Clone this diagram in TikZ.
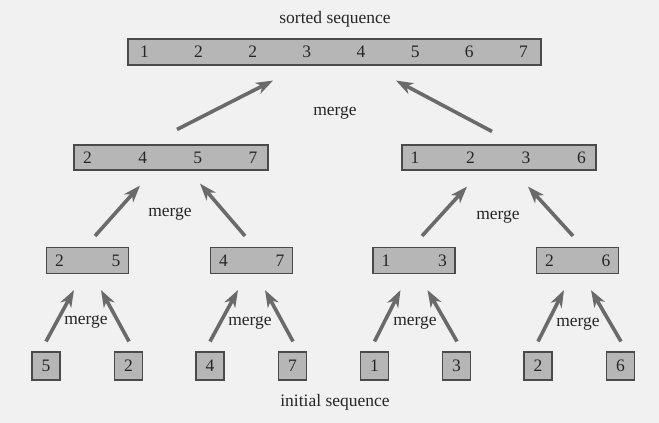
\documentclass[tikz,border=0pt]{standalone}
\usepackage{fontspec}
\setmainfont{Liberation Serif}
\usetikzlibrary{calc,arrows.meta}
\definecolor{bg}{HTML}{F1F1F1}
\definecolor{boxfill}{HTML}{B6B6B6}
\definecolor{boxline}{HTML}{4A4A4A}
\definecolor{arrowc}{HTML}{6A6A6A}
\tikzset{
  cell/.style={draw=boxline, line width=1.1pt, fill=boxfill, inner sep=0pt, minimum height=26pt},
  num/.style={font=\fontsize{17.5}{18}\selectfont, inner sep=0pt, text=black!85},
  leaf/.style={cell, minimum width=28pt, minimum height=28pt, font=\fontsize{17.5}{18}\selectfont, text=black!85},
  lbl/.style={font=\fontsize{17.5}{18}\selectfont, inner sep=0pt, text=black!85},
  arr/.style={draw=arrowc, line width=3.6pt, -{Stealth[length=17pt,width=12pt,inset=5pt]}}
}
\begin{document}
\begin{tikzpicture}[x=1pt,y=-1pt]
\fill[bg] (0,0) rectangle (659,423);
\useasboundingbox (0,0) rectangle (659,423);

% labels
\node[lbl] (tsorted) at (335,19) {sorted sequence};
\node[lbl] (tinit) at (335,402) {initial sequence};

% top box
\node[cell, minimum width=413pt] (top) at (334.5,52) {};
\foreach \v [count=\i] in {1,2,2,3,4,5,6,7}
  \node[num] (top\i) at ($(top.west)+({17+(\i-1)*54.14},0)$) {\v};

% level 2
\node[cell, minimum width=194pt, minimum height=25pt] (ma) at (171,157.5) {};
\foreach \v [count=\i] in {2,4,5,7}
  \node[num] (ma\i) at ($(ma.west)+({14+(\i-1)*55.2},0)$) {\v};
\node[cell, minimum width=194pt, minimum height=25pt] (mb) at (499,157.5) {};
\foreach \v [count=\i] in {1,2,3,6}
  \node[num] (mb\i) at ($(mb.west)+({13.5+(\i-1)*55.5},0)$) {\v};

% level 3
\foreach \n/\x/\a/\b in {pa/87.5/2/5, pb/251.5/4/7, pc/414/1/3, pd/577.5/2/6}{
  \node[cell, minimum width=82pt] (\n) at (\x,260.5) {};
  \node[num] (\n1) at ($(\n.west)+(13.5,0)$) {\a};
  \node[num] (\n2) at ($(\n.east)+(-13,0)$) {\b};
}

% leaves
\foreach \n/\x/\v in {l1/46/5, l2/128.5/2, l3/210/4, l4/292.5/7, l5/374.5/1, l6/456.5/3, l7/538/2, l8/620.5/6}
  \node[leaf] (\n) at (\x,366) {\v};

% merge labels
\node[lbl] (mg0) at (335,113) {merge};
\node[lbl] (mg1) at (170,214) {merge};
\node[lbl] (mg2) at (498,217) {merge};
\node[lbl] (mg3) at (86,322) {merge};
\node[lbl] (mg4) at (250,323) {merge};
\node[lbl] (mg5) at (415,323) {merge};
\node[lbl] (mg6) at (578,324) {merge};

% arrows leaves -> level 3
\foreach \l/\r/\p in {l1/l2/pa, l3/l4/pb, l5/l6/pc, l7/l8/pd}{
  \draw[arr] ($(\l.north)+(0,-10)$) -- ($(\p.south)+(-13.5,16)$);
  \draw[arr] ($(\r.north)+(0.5,-10)$) -- ($(\p.south)+(13.5,16)$);
}

% level 3 -> level 2
\draw[arr] ($(pa.north)+(7.5,-11)$) -- ($(ma.south)+(-31,15)$);
\draw[arr] ($(pb.north)+(-6.5,-11)$) -- ($(ma.south)+(29,13)$);
\draw[arr] ($(pc.north)+(8,-11)$) -- ($(mb.south)+(-32,16)$);
\draw[arr] ($(pd.north)+(-4.5,-11)$) -- ($(mb.south)+(29,16)$);

% level 2 -> top
\draw[arr] ($(ma.north)+(6,-15)$) -- ($(top.south)+(-61.5,15)$);
\draw[arr] ($(mb.north)+(-7,-13)$) -- ($(top.south)+(61.5,15)$);
\end{tikzpicture}
\end{document}
